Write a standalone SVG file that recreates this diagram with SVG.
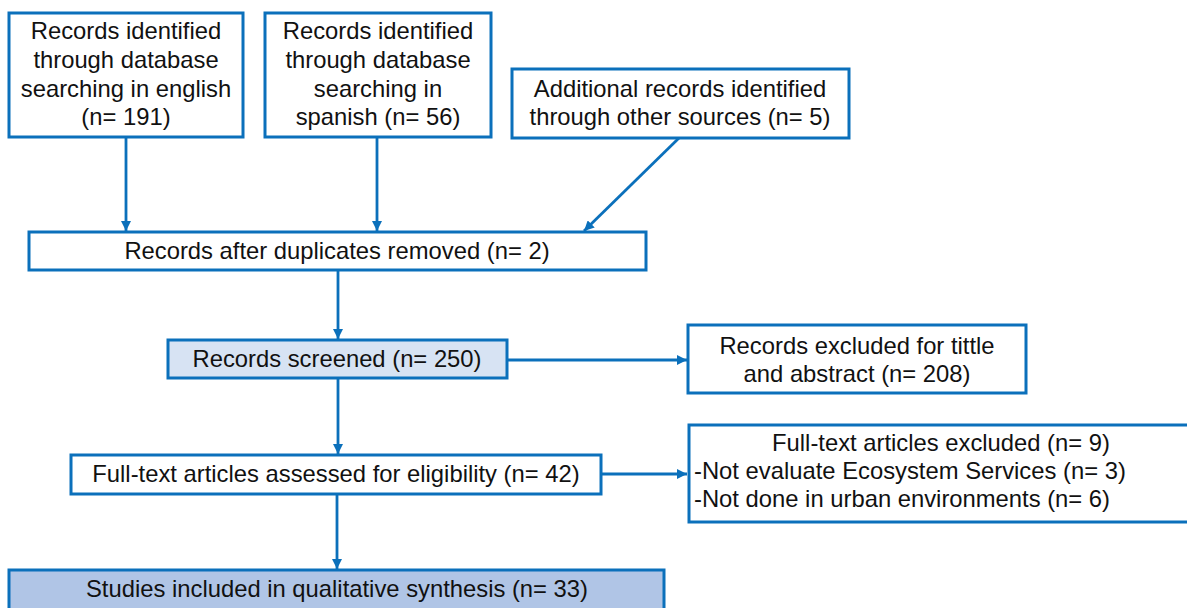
<svg xmlns="http://www.w3.org/2000/svg" width="1187" height="608" viewBox="0 0 1187 608">
<defs>
<style>
.box{fill:#ffffff;stroke:#0b70bb;stroke-width:3}
.scr{fill:#d7e3f3}
.inc{fill:#b0c5e6}
.t{font-family:"Liberation Sans",Arial,sans-serif;font-size:23.8px;fill:#111111}
.m{text-anchor:middle}
.c{stroke:#0b70bb;stroke-width:2.8;fill:none;marker-end:url(#ah)}
</style>
<marker id="ah" viewBox="0 0 10 10" refX="10" refY="5" markerWidth="3.6" markerHeight="3.6" markerUnits="strokeWidth" orient="auto">
<path d="M0,0 L10,5 L0,10 z" fill="#0b70bb"/>
</marker>
</defs>
<rect width="1187" height="608" fill="#ffffff"/>
<g id="connectors">
<line class="c" x1="126" y1="137" x2="126" y2="231"/>
<line class="c" x1="377" y1="137" x2="377" y2="231"/>
<line class="c" x1="679" y1="138" x2="584" y2="231"/>
<line class="c" x1="338" y1="270" x2="338" y2="339"/>
<line class="c" x1="338" y1="378" x2="338" y2="454"/>
<line class="c" x1="337" y1="494" x2="337" y2="569"/>
<line class="c" x1="507" y1="360" x2="687" y2="360"/>
<line class="c" x1="601" y1="474" x2="687" y2="474"/>
</g>
<g id="n1">
<rect class="box" x="9" y="13" width="234" height="124"/>
<text class="t m" x="126" y="39">Records identified</text>
<text class="t m" x="126" y="68">through database</text>
<text class="t m" x="126" y="97">searching in english</text>
<text class="t m" x="126" y="125">(n= 191)</text>
</g>
<g id="n2">
<rect class="box" x="265" y="13" width="226" height="124"/>
<text class="t m" x="378" y="39">Records identified</text>
<text class="t m" x="378" y="68">through database</text>
<text class="t m" x="378" y="97">searching in</text>
<text class="t m" x="378" y="125">spanish (n= 56)</text>
</g>
<g id="n3">
<rect class="box" x="512" y="69" width="337" height="69"/>
<text class="t m" x="680" y="97">Additional records identified</text>
<text class="t m" x="680" y="125">through other sources (n= 5)</text>
</g>
<g id="n4">
<rect class="box" x="29" y="232" width="617" height="38"/>
<text class="t m" x="337" y="259">Records after duplicates removed (n= 2)</text>
</g>
<g id="n5">
<rect class="box scr" x="168" y="340" width="339" height="38"/>
<text class="t m" x="337" y="367">Records screened (n= 250)</text>
</g>
<g id="n6">
<rect class="box" x="688" y="325" width="338" height="68"/>
<text class="t m" x="857" y="354">Records excluded for tittle</text>
<text class="t m" x="857" y="382">and abstract (n= 208)</text>
</g>
<g id="n7">
<rect class="box" x="71" y="455" width="530" height="39"/>
<text class="t m" x="336" y="482">Full-text articles assessed for eligibility (n= 42)</text>
</g>
<g id="n8">
<rect class="box" x="689" y="425" width="520" height="97"/>
<text class="t m" x="941" y="451">Full-text articles excluded (n= 9)</text>
<text class="t" x="694" y="479">-Not evaluate Ecosystem Services (n= 3)</text>
<text class="t" x="694" y="507">-Not done in urban environments (n= 6)</text>
</g>
<g id="n9">
<rect class="box inc" x="9" y="570" width="655" height="60"/>
<text class="t m" x="337" y="597">Studies included in qualitative synthesis (n= 33)</text>
</g>
</svg>
